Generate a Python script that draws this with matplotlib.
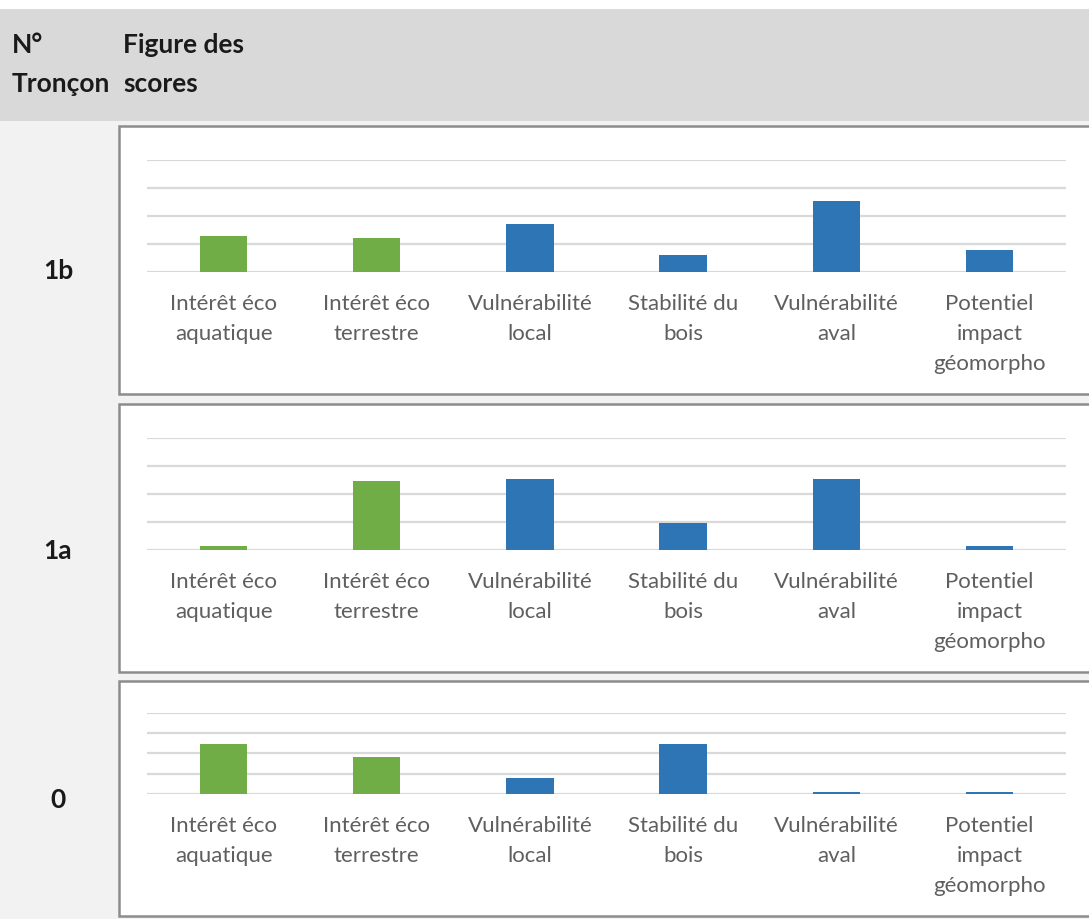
import matplotlib
matplotlib.use("Agg")
import matplotlib.pyplot as plt
from matplotlib.patches import Rectangle

W, H = 1089, 919
plt.rcParams['font.family'] = ['Lato', 'DejaVu Sans']

categories = ["Intérêt éco\naquatique", "Intérêt éco\nterrestre", "Vulnérabilité\nlocal",
              "Stabilité du\nbois", "Vulnérabilité\naval", "Potentiel\nimpact\ngéomorpho"]
bar_colors = ["#70AD47", "#70AD47", "#2E75B6", "#2E75B6", "#2E75B6", "#2E75B6"]
troncons = ["1b", "1a", "0"]
scores_1b = [1.3, 1.22, 1.73, 0.6, 2.53, 0.8]
scores_1a = [0.15, 2.45, 2.52, 0.95, 2.52, 0.15]
scores_0 = [2.48, 1.8, 0.8, 2.48, 0.12, 0.12]
all_scores = [scores_1b, scores_1a, scores_0]

fig = plt.figure(figsize=(W / 100, H / 100), dpi=100)
fig.patch.set_facecolor("#F2F2F2")

def fx(px):
    return px / W

def fy(py):
    return 1 - py / H

def frect(x0, y0, x1, y1, **kw):
    fig.patches.append(Rectangle((fx(x0), fy(y1)), fx(x1) - fx(x0), fy(y0) - fy(y1),
                                 transform=fig.transFigure, zorder=0, **kw))

# top white strip and grey header band
frect(0, 0, W, 9, facecolor="white", edgecolor="none")
frect(0, 9, W, 121, facecolor="#D9D9D9", edgecolor="none")
hkw = dict(fontsize=19, fontweight="bold", color="#1a1a1a", va="center", ha="left")
fig.text(fx(12), fy(45), "N°", **hkw)
fig.text(fx(12), fy(84), "Tronçon", **hkw)
fig.text(fx(123), fy(45), "Figure des", **hkw)
fig.text(fx(123), fy(84), "scores", **hkw)

# panel geometry (pixels): box top, box bottom, plot top, plot bottom, row label y
panels = [
    (126, 394, 160, 272, 271),
    (404, 672, 438, 550, 551),
    (681, 916, 712.7, 794, 800),
]

for (bt, bb, pt, pb, ly), name, vals in zip(panels, troncons, all_scores):
    frect(119, bt, W + 10, bb, facecolor="white", edgecolor="#8C8C8C", linewidth=1.8)
    fig.text(fx(58), fy(ly), name, fontsize=19, fontweight="bold", color="#1a1a1a",
             va="center", ha="center")
    ax = fig.add_axes([fx(147), fy(pb), fx(1066) - fx(147), fy(pt) - fy(pb)])
    ax.set_zorder(5)
    ax.set_facecolor("none")
    x = list(range(len(categories)))
    ax.bar(x, vals, width=0.31, color=bar_colors, zorder=3)
    ax.set_xlim(-0.5, len(categories) - 0.5)
    ax.set_ylim(0, 4)
    ax.set_yticks([0, 1, 2, 3, 4])
    ax.yaxis.grid(True, color="#D9D9D9", linewidth=1.6, zorder=0)
    ax.tick_params(axis="y", left=False, labelleft=False)
    ax.set_xticks(x)
    ax.set_xticklabels(categories, fontsize=16, color="#5f5f5f", linespacing=1.62)
    ax.tick_params(axis="x", length=0, pad=16)
    for s in ax.spines.values():
        s.set_visible(False)
    ax.set_axisbelow(True)

fig.savefig("out.png", dpi=100, facecolor=fig.get_facecolor())
